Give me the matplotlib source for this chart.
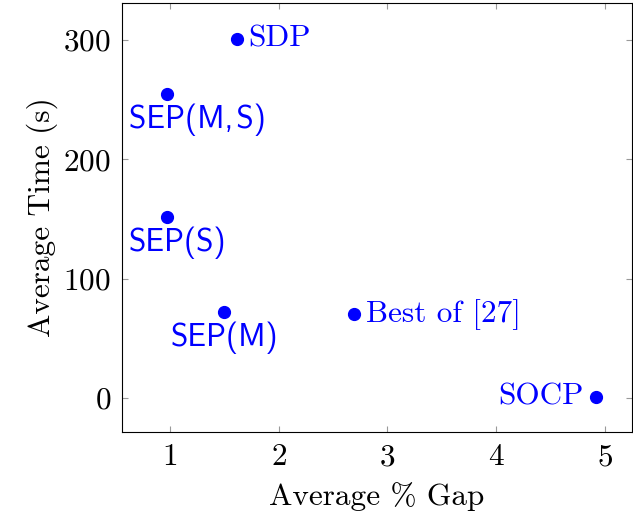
import matplotlib.pyplot as plt

gap = [1.62, 0.97, 0.97, 1.50, 2.69, 4.92]
time = [301, 255, 152, 72, 70, 1]
names = ["SDP", "SEP(M,\u200aS)", "SEP(S)", "SEP(M)", "Best of [27]", "SOCP"]
# label placement: (dx px, dy px, ha, va, sans)
places = [
    (11, 0, "left", "center", False),
    (-38, -10, "left", "top", True),
    (-38, -10, "left", "top", True),
    (0, -9, "center", "top", True),
    (12, 0, "left", "center", False),
    (-12, 0, "right", "center", False),
]

plt.rcParams["font.family"] = ["cmr10", "DejaVu Serif"]
plt.rcParams["axes.formatter.use_mathtext"] = True
plt.rcParams["mathtext.fontset"] = "cm"

fig = plt.figure(figsize=(6.33, 5.16), dpi=100)
ax = fig.add_axes([122 / 633, 1 - 432 / 516, (632 - 122) / 633, (432 - 3) / 516])

ax.plot(gap, time, "o", color="blue", markersize=8.5, linestyle="none")
for x, y, name, (dx, dy, ha, va, sans) in zip(gap, time, names, places):
    fam = ["cmss10", "DejaVu Sans"] if sans else ["cmr10", "DejaVu Serif"]
    ax.annotate(name, (x, y), xytext=(dx * 0.72, dy * 0.72), textcoords="offset points",
                ha=ha, va=va, color="blue", fontsize=22.5, family=fam)

ax.set_xlim(0.56, 5.25)
ax.set_ylim(-28.5, 331)
ax.set_xticks([1, 2, 3, 4, 5])
ax.set_yticks([0, 100, 200, 300])
ax.tick_params(direction="in", length=4.5, width=0.8, color="#999999",
               top=True, right=True, labelsize=22.5, pad=8)
for s in ax.spines.values():
    s.set_linewidth(0.8)
ax.set_xlabel("Average % Gap", fontsize=22.5, labelpad=8)
ax.set_ylabel("Average Time (s)", fontsize=22.5, labelpad=4)

fig.savefig("out.png", dpi=100)
